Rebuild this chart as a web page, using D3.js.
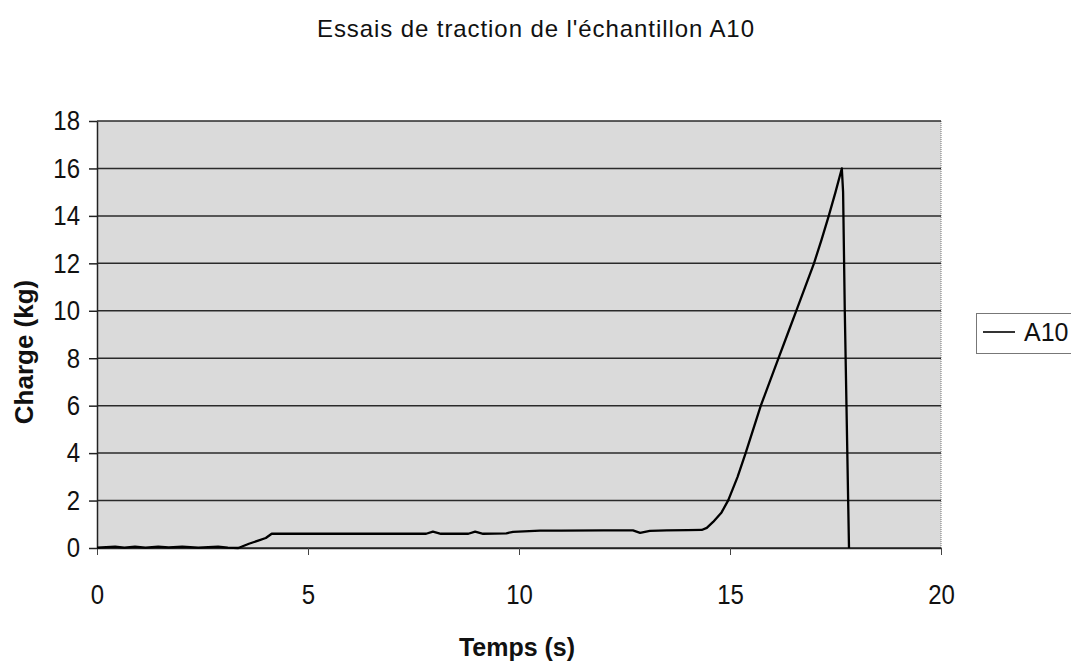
<!DOCTYPE html>
<html>
<head>
<meta charset="utf-8">
<script src="https://cdn.jsdelivr.net/npm/d3@7"></script>
<style>
  html, body { margin: 0; padding: 0; background: #fff; }
  svg { display: block; font-family: "Liberation Sans", Arial, sans-serif; }
</style>
</head>
<body>
<svg id="chart" width="1071" height="663"></svg>
<script>
// ---- data ----
const title = "Essais de traction de l'échantillon A10";
const xLabel = "Temps (s)";
const yLabel = "Charge (kg)";
const seriesName = "A10";
const xTicks = [0, 5, 10, 15, 20];
const yTicks = [0, 2, 4, 6, 8, 10, 12, 14, 16, 18];
const timeS = [0, 0.43, 0.65, 0.9, 1.15, 1.45, 1.7, 2.02, 2.4, 2.87, 3.1, 3.35, 3.6, 3.82, 4.0, 4.14,
  5, 6, 7, 7.8, 7.96, 8.15, 8.8, 8.96, 9.15, 9.7, 9.86, 10.5, 11, 12, 12.7, 12.87, 13.1, 13.5, 14, 14.33,
  14.45, 14.6, 14.8, 14.96, 15.18, 15.37, 15.55, 15.73, 15.94, 16.15, 16.36, 16.57, 16.78, 16.99, 17.17,
  17.34, 17.5, 17.65, 17.68, 17.72, 17.78, 17.82];
const chargeKg = [0.02, 0.06, 0.02, 0.06, 0.02, 0.06, 0.03, 0.06, 0.02, 0.06, 0.02, 0.0, 0.18, 0.31, 0.42, 0.6,
  0.6, 0.6, 0.6, 0.6, 0.69, 0.6, 0.6, 0.69, 0.6, 0.62, 0.68, 0.73, 0.73, 0.74, 0.74, 0.64, 0.72, 0.74, 0.75, 0.76,
  0.85, 1.1, 1.5, 2.02, 3.0, 4.0, 5.0, 6.0, 7.0, 8.0, 9.0, 10.0, 11.0, 12.0, 13.0,
  14.0, 15.0, 16.0, 15.0, 10.0, 4.0, 0.0];

// ---- layout ----
const svg = d3.select("#chart");
const pLeft = 97, pRight = 941, pTop = 121, pBottom = 548;
const tickScaleY = 1.15;

const x = d3.scaleLinear().domain([0, 20]).range([pLeft, pRight]);
const y = d3.scaleLinear().domain([0, 18]).range([pBottom, pTop]);

// plot background
svg.append("rect")
  .attr("x", pLeft).attr("y", pTop)
  .attr("width", pRight - pLeft).attr("height", pBottom - pTop)
  .attr("fill", "#dadada");

// right border (dotted grey)
svg.append("line")
  .attr("x1", pRight).attr("x2", pRight).attr("y1", pTop).attr("y2", pBottom)
  .attr("stroke", "#8a8a8a").attr("stroke-width", 1.2)
  .attr("stroke-dasharray", "1,1");

// horizontal gridlines
svg.append("g").selectAll("line")
  .data(yTicks)
  .join("line")
  .attr("x1", pLeft).attr("x2", pRight)
  .attr("y1", d => y(d)).attr("y2", d => y(d))
  .attr("stroke", "#2a2a2a").attr("stroke-width", 1.5);

// y axis
const yAxis = svg.append("g")
  .attr("transform", `translate(${pLeft},0)`)
  .call(d3.axisLeft(y).tickValues(yTicks).tickSize(8).tickPadding(11).tickSizeOuter(0));
yAxis.select(".domain").attr("stroke", "#222").attr("stroke-width", 1.5);
yAxis.selectAll(".tick line").attr("stroke", "#222").attr("stroke-width", 1.5);
yAxis.selectAll("text")
  .attr("font-family", "Liberation Sans, Arial, sans-serif")
  .attr("font-size", 24).attr("fill", "#111")
  .attr("x", -17)
  .attr("transform", `scale(1,${tickScaleY})`);

// x axis
const xAxis = svg.append("g")
  .attr("transform", `translate(0,${pBottom})`)
  .call(d3.axisBottom(x).tickValues(xTicks).tickSize(7).tickPadding(30).tickSizeOuter(0));
xAxis.select(".domain").attr("stroke", "#222").attr("stroke-width", 1.5);
xAxis.selectAll(".tick line").attr("stroke", "#444").attr("stroke-width", 1);
xAxis.selectAll("text")
  .attr("font-family", "Liberation Sans, Arial, sans-serif")
  .attr("font-size", 24).attr("fill", "#111")
  .attr("y", 56 / tickScaleY).attr("dy", 0)
  .attr("transform", `scale(1,${tickScaleY})`);

// data line
const pts = timeS.map((t, i) => [t, chargeKg[i]]);
svg.append("path")
  .datum(pts)
  .attr("fill", "none")
  .attr("stroke", "#000")
  .attr("stroke-width", 2.3)
  .attr("stroke-linejoin", "round")
  .attr("d", d3.line().x(d => x(d[0])).y(d => y(d[1])));

// title
svg.append("text")
  .attr("x", 317).attr("y", 37)
  .attr("font-size", 24).attr("fill", "#111")
  .attr("textLength", 437).attr("lengthAdjust", "spacing")
  .text(title);

// axis titles
svg.append("text")
  .attr("x", 517).attr("y", 656)
  .attr("text-anchor", "middle")
  .attr("font-size", 25).attr("font-weight", "bold").attr("fill", "#111")
  .text(xLabel);

svg.append("text")
  .attr("transform", "translate(33,352) rotate(-90)")
  .attr("text-anchor", "middle")
  .attr("font-size", 26).attr("font-weight", "bold").attr("fill", "#111")
  .text(yLabel);

// legend
const lg = svg.append("g");
lg.append("rect")
  .attr("x", 976.5).attr("y", 313.5)
  .attr("width", 110).attr("height", 40)
  .attr("fill", "#fff").attr("stroke", "#777").attr("stroke-width", 1);
lg.append("line")
  .attr("x1", 983).attr("x2", 1015).attr("y1", 332).attr("y2", 332)
  .attr("stroke", "#000").attr("stroke-width", 1.6);
lg.append("text")
  .attr("x", 1024).attr("y", 341)
  .attr("font-size", 25).attr("fill", "#111")
  .text(seriesName);
</script>
</body>
</html>
